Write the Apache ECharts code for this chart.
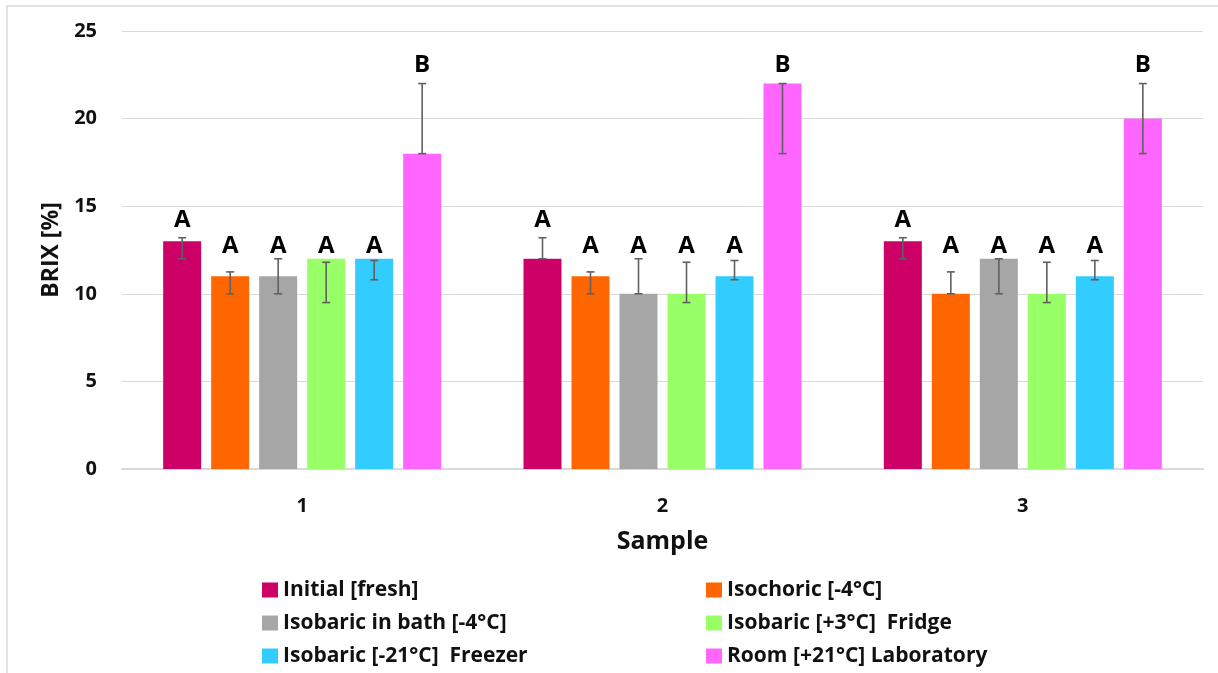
<!DOCTYPE html>
<html><head><meta charset="utf-8">
<script src="https://cdn.jsdelivr.net/npm/echarts@6/dist/echarts.min.js"></script>
<style>html,body{margin:0;padding:0;background:#fff}#c{width:1218px;height:673px}</style>
</head><body><div id="c"></div>
<script>
// ---- data ----
const categories = ['1', '2', '3'];
const seriesNames = ['Initial [fresh]', 'Isochoric [-4°C]', 'Isobaric in bath [-4°C]', 'Isobaric [+3°C]  Fridge', 'Isobaric [-21°C]  Freezer', 'Room [+21°C] Laboratory'];
const colors = ['#CC0066', '#FF6600', '#A6A6A6', '#99FF66', '#33CCFF', '#FF66FF'];

const initialVals  = [13, 12, 13];
const isochoricVals = [11, 11, 10];
const bathVals     = [11, 10, 12];
const fridgeVals   = [12, 10, 10];
const freezerVals  = [12, 11, 11];
const roomVals     = [18, 22, 20];

// error bar ends (low, high)
const initialLow  = [12, 12, 12],     initialHigh  = [13.2, 13.2, 13.2];
const isochoricLow = [10, 10, 10],    isochoricHigh = [11.25, 11.25, 11.25];
const bathLow     = [10, 10, 10],     bathHigh     = [12, 12, 12];
const fridgeLow   = [9.5, 9.5, 9.5],  fridgeHigh   = [11.8, 11.8, 11.8];
const freezerLow  = [10.8, 10.8, 10.8], freezerHigh = [11.9, 11.9, 11.9];
const roomLow     = [18, 18, 18],     roomHigh     = [22, 22, 22];

// significance letters and the value level where each letter sits
const letters = ['A', 'A', 'A', 'A', 'A', 'B'];
const letterLevel = [14.2, 12.7, 12.7, 12.7, 12.7, 23.05];

const yTicks = { min: 0, max: 25, interval: 5 };

// ---- build ----
const vals = [initialVals, isochoricVals, bathVals, fridgeVals, freezerVals, roomVals];
const lows = [initialLow, isochoricLow, bathLow, fridgeLow, freezerLow, roomLow];
const highs = [initialHigh, isochoricHigh, bathHigh, fridgeHigh, freezerHigh, roomHigh];

const BAR_W = 38, BAR_GAP = 10, PITCH = BAR_W + BAR_GAP;
const FONT = '"Open Sans", Lato, sans-serif';
const TXT = '#111';

const series = [];
vals.forEach((v, i) => {
  series.push({
    name: seriesNames[i], type: 'bar', data: v,
    barWidth: BAR_W, barGap: (BAR_GAP / BAR_W * 100) + '%',
    itemStyle: { color: colors[i] }, z: 2
  });
});
vals.forEach((v, i) => {
  series.push({
    name: 'err' + i, type: 'custom', z: 5,
    data: categories.map((c, k) => [k, lows[i][k], highs[i][k], letterLevel[i]]),
    renderItem: function (params, api) {
      const k = api.value(0);
      const off = (i - (vals.length - 1) / 2) * PITCH;
      const pLo = api.coord([k, api.value(1)]);
      const pHi = api.coord([k, api.value(2)]);
      const pL = api.coord([k, api.value(3)]);
      const x = pLo[0] + off;
      const st = { stroke: '#606060', lineWidth: 1.6 };
      return {
        type: 'group', children: [
          { type: 'line', shape: { x1: x, y1: pLo[1], x2: x, y2: pHi[1] }, style: st },
          { type: 'line', shape: { x1: x - 4, y1: pLo[1], x2: x + 4, y2: pLo[1] }, style: st },
          { type: 'line', shape: { x1: x - 4, y1: pHi[1], x2: x + 4, y2: pHi[1] }, style: st },
          { type: 'text', x: x, y: pL[1], style: { text: letters[i], fill: '#000', font: 'bold 24px ' + FONT, align: 'center', verticalAlign: 'middle' } }
        ]
      };
    }
  });
});

const legendBase = {
  orient: 'vertical', itemWidth: 16, itemHeight: 15, itemGap: 11, icon: 'rect',
  padding: 0, height: 120,
  textStyle: { fontFamily: FONT, fontWeight: 'bold', fontSize: 21, lineHeight: 22, color: TXT }
};

const option = {
  animation: false,
  backgroundColor: '#fff',
  grid: { left: 122, right: 15, top: 31, bottom: 204, outerBoundsMode: 'none' },
  legend: [
    Object.assign({ left: 262, top: 579, data: [seriesNames[0], seriesNames[2], seriesNames[4]] }, legendBase),
    Object.assign({ left: 706, top: 579, data: [seriesNames[1], seriesNames[3], seriesNames[5]] }, legendBase)
  ],
  xAxis: {
    type: 'category', data: categories,
    name: 'Sample', nameLocation: 'middle', nameGap: 60,
    nameTextStyle: { fontFamily: FONT, fontWeight: 'bold', fontSize: 25, color: TXT },
    axisLine: { lineStyle: { color: '#D9D9D9', width: 2 } },
    axisTick: { show: false },
    axisLabel: { fontFamily: FONT, fontWeight: 'bold', fontSize: 20, color: TXT, margin: 27 }
  },
  yAxis: {
    type: 'value', min: yTicks.min, max: yTicks.max, interval: yTicks.interval,
    name: 'BRIX [%]', nameLocation: 'middle', nameGap: 59, nameRotate: 90,
    nameTextStyle: { fontFamily: FONT, fontWeight: 'bold', fontSize: 23, color: TXT },
    axisLine: { show: false }, axisTick: { show: false },
    axisLabel: { fontFamily: FONT, fontWeight: 'bold', fontSize: 20, color: TXT, margin: 25 },
    splitLine: { lineStyle: { color: '#D9D9D9', width: 1.2 } }
  },
  graphic: [{
    type: 'rect', shape: { x: 7, y: 6, width: 1240, height: 700 },
    style: { fill: 'none', stroke: '#D9D9D9', lineWidth: 1.5 }, z: -1
  }],
  series: series
};

const chart = echarts.init(document.getElementById('c'), null, { renderer: 'canvas' });
chart.setOption(option);
</script>
</body></html>
